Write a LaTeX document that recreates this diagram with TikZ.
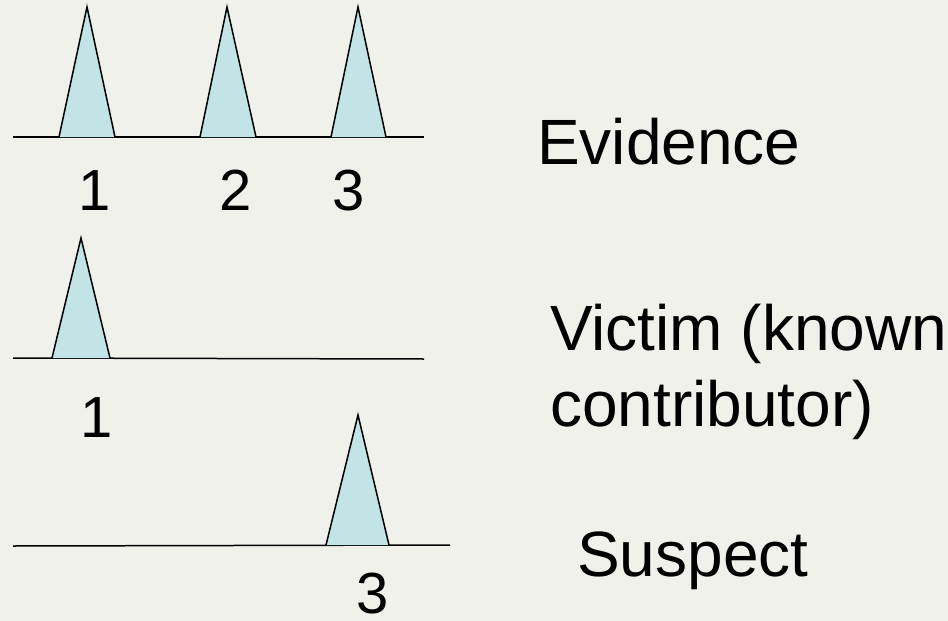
\documentclass[tikz,border=0pt]{standalone}
\usepackage{fontspec}
\setmainfont{Liberation Sans}
\definecolor{slidebg}{HTML}{F1F1EC}
\definecolor{peakfill}{HTML}{C2E4E6}

\begin{document}
\begin{tikzpicture}[
  x=1pt,
  y=-1pt,
  every node/.style={inner sep=0pt, black},
  label/.style={font=\fontsize{64}{76}\selectfont, anchor=base west},
  allele/.style={font=\fontsize{58}{70}\selectfont, anchor=base, text depth=0pt},
  trace/.style={black, line width=1.5pt},
  peak/.style={draw=black, fill=peakfill, line width=1.5pt, line join=miter}
]
  % ---- slide background, fixes the page size ---------------------------
  \fill[slidebg] (0,0) rectangle (948,621);
  \useasboundingbox (0,0) rectangle (948,621);

  % ---- evidence profile: three peaks -----------------------------------
  \draw[trace] (13,137) -- (424,137);
  \filldraw[peak] (59,137) -- (87,7) -- (115,137);
  \filldraw[peak] (200,137) -- (227,7) -- (256,137);
  \filldraw[peak] (331,137) -- (358,7) -- (386,137);
  \node[allele] (ev1) at (95,210) {1};
  \node[allele] (ev2) at (236,210) {2};
  \node[allele] (ev3) at (349,210) {3};
  \node[label] (evidence) at (537,164) {Evidence};

  % ---- victim profile ---------------------------------------------------
  \draw[trace] (13,358) -- (424,359);
  \filldraw[peak] (52,358) -- (81,238) -- (110,358);
  \node[allele] (vi1) at (97,437) {1};
  \node[label] (victim) at (550,350) {Victim (known};
  \node[label] (contrib) at (550,426) {contributor)};

  % ---- suspect profile --------------------------------------------------
  \draw[trace] (13,546) -- (450,545);
  \filldraw[peak] (326,545) -- (358,415) -- (389,545);
  \node[allele] (su3) at (373,613) {3};
  \node[label] (suspect) at (577,576) {Suspect};

\end{tikzpicture}
\end{document}
